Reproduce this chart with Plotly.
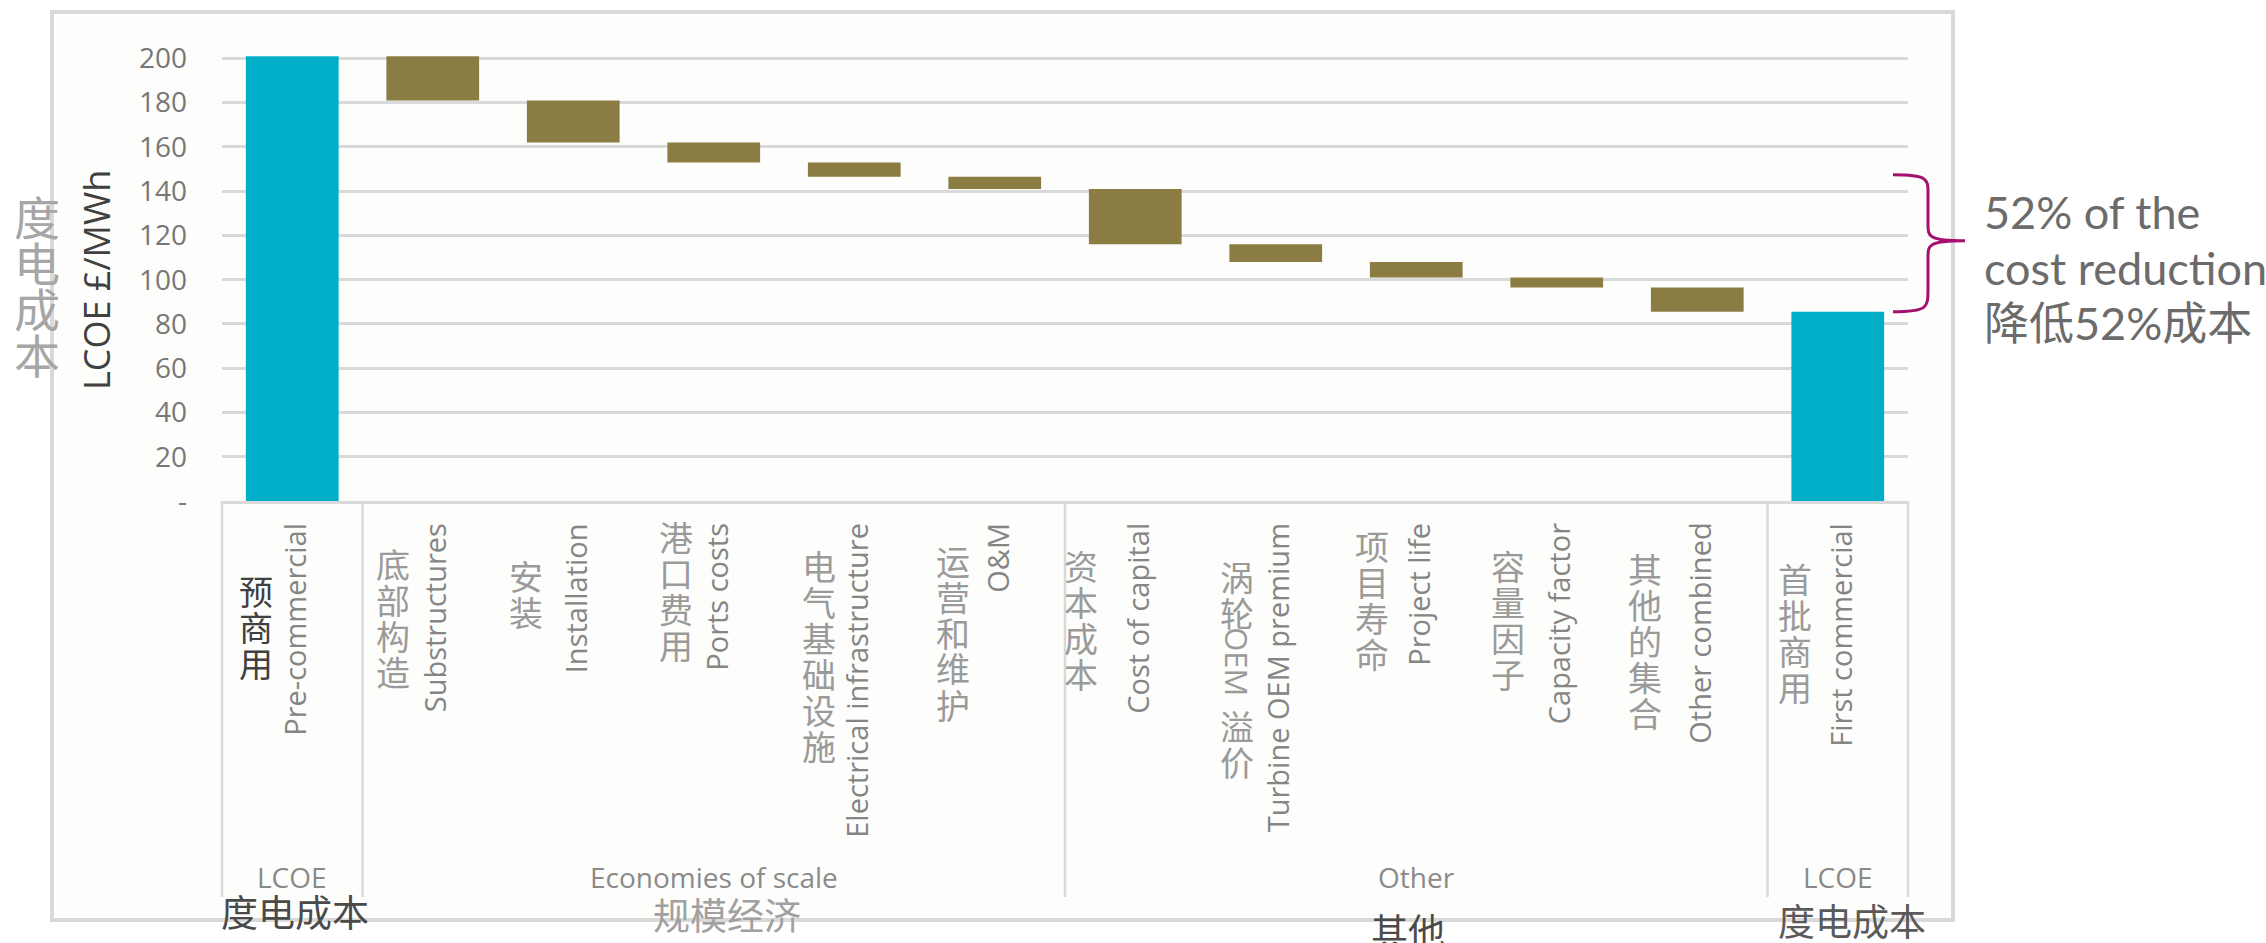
import plotly.graph_objects as go

# ---------------- data ----------------
categories = ["Pre-commercial", "Substructures", "Installation", "Ports costs",
              "Electrical infrastructure", "O&M", "Cost of capital",
              "Turbine OEM premium", "Project life", "Capacity factor",
              "Other combined", "First commercial"]
categories_zh = ["预商用", "底部构造", "安装", "港口费用", "电气基础设施", "运营和维护",
                 "资本成本", "涡轮OEM溢价", "项目寿命", "容量因子", "其他的集合", "首批商用"]
values = [201, -20, -19, -9, -6.5, -5.5, -25, -8, -7, -4.5, -11, None]
measures = ["absolute"] + ["relative"] * 10 + ["total"]

groups_en = ["LCOE", "Economies of scale", "Other", "LCOE"]
groups_zh = ["度电成本", "规模经济", "其他", "度电成本"]
group_first = [0, 1, 6, 11]
group_last = [0, 5, 10, 11]

y_tickvals = [0, 20, 40, 60, 80, 100, 120, 140, 160, 180, 200]
y_ticktext = ["-", "20", "40", "60", "80", "100", "120", "140", "160", "180", "200"]

y_title = "LCOE £/MWh"
y_title_zh = "度电成本"
note_lines = ["52% of the", "cost reduction", "降低52%成本"]

# ---------------- layout helpers (pixel geometry) ----------------
W, H = 2266, 943
PL, PR = 222, 1908          # plot left/right px
T, B0 = 54, 501             # plot top px, plot bottom px
YMAX = 202
N = len(categories)
CW = (PR - PL) / N

def xp(px):
    return (px - PL) / (PR - PL)

def yp(py):
    return (B0 - py) / (B0 - T)

GRID = "#d9d9d9"
OLIVE = "#8b7c44"
CYAN = "#00afc7"
EN_FONT = "Open Sans, Noto Sans CJK SC, sans-serif"
ZH_FONT = "Noto Sans CJK SC, sans-serif"

fig = go.Figure()
fig.add_trace(go.Waterfall(
    x=categories, y=values, measure=measures,
    decreasing=dict(marker=dict(color=OLIVE, line=dict(width=0))),
    increasing=dict(marker=dict(color=OLIVE, line=dict(width=0))),
    totals=dict(marker=dict(color=CYAN, line=dict(width=0))),
    connector=dict(visible=False),
    textinfo="none", hoverinfo="x+y",
))

shapes = []
# outer frame
shapes.append(dict(type="rect", xref="paper", yref="paper",
                   x0=xp(52), x1=xp(1953), y0=yp(920), y1=yp(12),
                   line=dict(color=GRID, width=4), fillcolor="#fdfdfb", layer="below"))
# category box separators
for b in [0, 1, 6, 11, 12]:
    shapes.append(dict(type="line", xref="paper", yref="paper",
                       x0=b / N, x1=b / N, y0=0, y1=yp(897),
                       line=dict(color=GRID, width=2.5)))

# brace (x in paper, y in data units)
bx0, bx1, bx2 = xp(1893), xp(1928), xp(1965)
ytop, y1a, y1b, ymid, y2a, y2b, ybot = 147.4, 139.5, 125, 117.6, 110.2, 95.5, 85.5
path = (f"M {bx0},{ytop} C {bx1},{ytop} {bx1},{ytop-2} {bx1},{y1a} "
        f"L {bx1},{y1b} C {bx1},{ymid+2} {bx1},{ymid} {bx2},{ymid} "
        f"C {bx1},{ymid} {bx1},{ymid-2} {bx1},{y2a} "
        f"L {bx1},{y2b} C {bx1},{ybot+2} {bx1},{ybot} {bx0},{ybot}")
shapes.append(dict(type="path", xref="paper", yref="y", path=path,
                   line=dict(color="#a3106e", width=3)))

ann = []
# y axis title
ann.append(dict(xref="paper", yref="paper", x=xp(96), y=yp(280), text=y_title,
                textangle=-90, showarrow=False, xanchor="center", yanchor="middle",
                font=dict(family=EN_FONT, size=36, color="#404040")))
# chinese y title, stacked
for k, ch in enumerate(y_title_zh):
    ann.append(dict(xref="paper", yref="paper", x=xp(37), y=yp(215 + 46 * k), text=ch,
                    showarrow=False, xanchor="center", yanchor="middle",
                    font=dict(family=ZH_FONT, size=46, color="#a6a6a6")))

# category labels
zh_dx = [-36, -40, -47, -38, -35, -42, -54, -39, -44, -49, -52, -43]
zh_top = [572, 545, 557, 518, 547, 542, 547, 558, 527, 547, 550, 560]
for i, (en, zh) in enumerate(zip(categories, categories_zh)):
    ann.append(dict(xref="x", yref="paper", x=i + 2 / CW, y=yp(521), text=en,
                    textangle=-90, showarrow=False, xanchor="center", yanchor="top",
                    font=dict(family=EN_FONT, size=29, color="#858585")))
    col = "#404040" if i == 0 else "#9a9a9a"
    cx = i + zh_dx[i] / CW
    pos = zh_top[i]
    j = 0
    while j < len(zh):
        ch = zh[j]
        if ch.isascii():
            run = ""
            while j < len(zh) and zh[j].isascii():
                run += zh[j]
                j += 1
            ann.append(dict(xref="x", yref="paper", x=cx, y=yp(pos + 32), text=run,
                            textangle=90, showarrow=False, xanchor="center", yanchor="middle",
                            font=dict(family=EN_FONT, size=31, color=col)))
            pos += 77
        else:
            ann.append(dict(xref="x", yref="paper", x=cx, y=yp(pos + 18), text=ch,
                            showarrow=False, xanchor="center", yanchor="middle",
                            font=dict(family=ZH_FONT, size=34, color=col)))
            pos += 36
            j += 1

# group labels
zh_group_col = ["#4a4a4a", "#a0a0a0", "#4a4a4a", "#5a5a5a"]
zh_group_y = [911, 914, 930, 920]
zh_group_dx = [3, 13, -8, 14]
for g, (en, zh) in enumerate(zip(groups_en, groups_zh)):
    c = (group_first[g] + group_last[g]) / 2
    ann.append(dict(xref="x", yref="paper", x=c, y=yp(877), text=en,
                    showarrow=False, xanchor="center", yanchor="middle",
                    font=dict(family=EN_FONT, size=28, color="#8a8a8a")))
    ann.append(dict(xref="x", yref="paper", x=c + zh_group_dx[g] / CW, y=yp(zh_group_y[g]), text=zh,
                    showarrow=False, xanchor="center", yanchor="middle",
                    font=dict(family=ZH_FONT, size=37, color=zh_group_col[g])))

# right note
for k, (line, yy) in enumerate(zip(note_lines, [212, 268, 323])):
    ann.append(dict(xref="paper", yref="paper", x=xp(1982), y=yp(yy), text=line,
                    showarrow=False, xanchor="left", yanchor="middle",
                    font=dict(family="Lato, Noto Sans CJK SC, sans-serif", size=45, color="#6b6b6b")))

fig.update_layout(
    width=W, height=H,
    margin=dict(l=PL, r=W - PR, t=T, b=H - B0, pad=0),
    paper_bgcolor="white", plot_bgcolor="rgba(0,0,0,0)",
    showlegend=False, waterfallgap=0.34,
    font=dict(family=EN_FONT),
    shapes=shapes, annotations=ann,
    xaxis=dict(type="category", range=[-0.5, N - 0.5], showticklabels=False,
               showgrid=False, zeroline=False, showline=True, linecolor=GRID,
               linewidth=2.5, ticks=""),
    yaxis=dict(range=[0, YMAX], tickvals=y_tickvals, ticktext=y_ticktext,
               showgrid=True, gridcolor=GRID, gridwidth=2.5, zeroline=False,
               showline=False, ticks="", ticklabelstandoff=34,
               tickfont=dict(family=EN_FONT, size=28, color="#777777")),
)

fig.write_html("out.html")
